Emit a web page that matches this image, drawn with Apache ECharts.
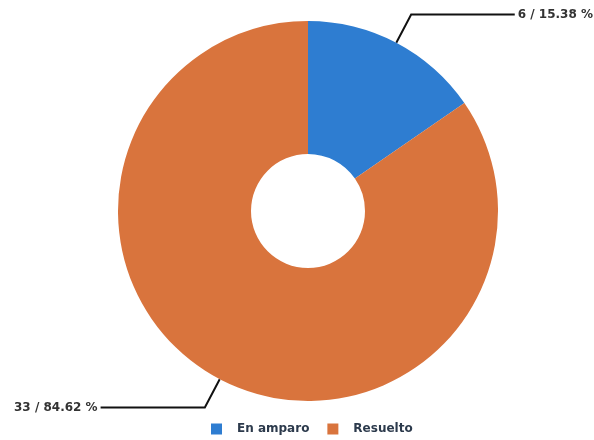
<!DOCTYPE html>
<html>
<head>
<meta charset="utf-8">
<script src="https://cdn.jsdelivr.net/npm/echarts@6/dist/echarts.min.js"></script>
<style>
html,body{margin:0;padding:0;background:#fff;}
#c{width:594px;height:440px;}
</style>
</head>
<body>
<div id="c"></div>
<script>
const categories = ["En amparo", "Resuelto"];
const values = [6, 33];
const percents = ["15.38", "84.62"];
const colors = ["#2e7dd1", "#d9743d"];

const chart = echarts.init(document.getElementById('c'), null, {renderer: 'canvas'});
const data = categories.map((c, i) => ({name: c, value: values[i], pct: percents[i], itemStyle: {color: colors[i]}}));
chart.setOption({
  animation: false,
  backgroundColor: '#ffffff',
  legend: {
    data: categories,
    left: 206,
    top: 418,
    itemWidth: 11,
    itemHeight: 11,
    itemGap: 18,
    icon: 'rect',
    textStyle: {fontFamily: 'DejaVu Sans', fontWeight: 'bold', fontSize: 12, color: '#2c3a4c', padding: [0, 0, 0, 10]}
  },
  series: [{
    type: 'pie',
    left: 13,
    right: 0,
    top: 0,
    bottom: 0,
    center: [295, 211],
    radius: [57, 190],
    startAngle: 90,
    clockwise: true,
    avoidLabelOverlap: true,
    data: data,
    itemStyle: {borderWidth: 0},
    label: {
      show: true,
      position: 'outside',
      alignTo: 'edge',
      edgeDistance: 1,
      distanceToLabelLine: 3,
      formatter: p => p.value + ' / ' + p.data.pct + ' %',
      fontFamily: 'DejaVu Sans',
      fontWeight: 'bold',
      fontSize: 12,
      color: '#333333'
    },
    labelLine: {
      show: true,
      length: 32,
      length2: 20,
      lineStyle: {color: '#111111', width: 2}
    }
  }]
});
</script>
</body>
</html>
